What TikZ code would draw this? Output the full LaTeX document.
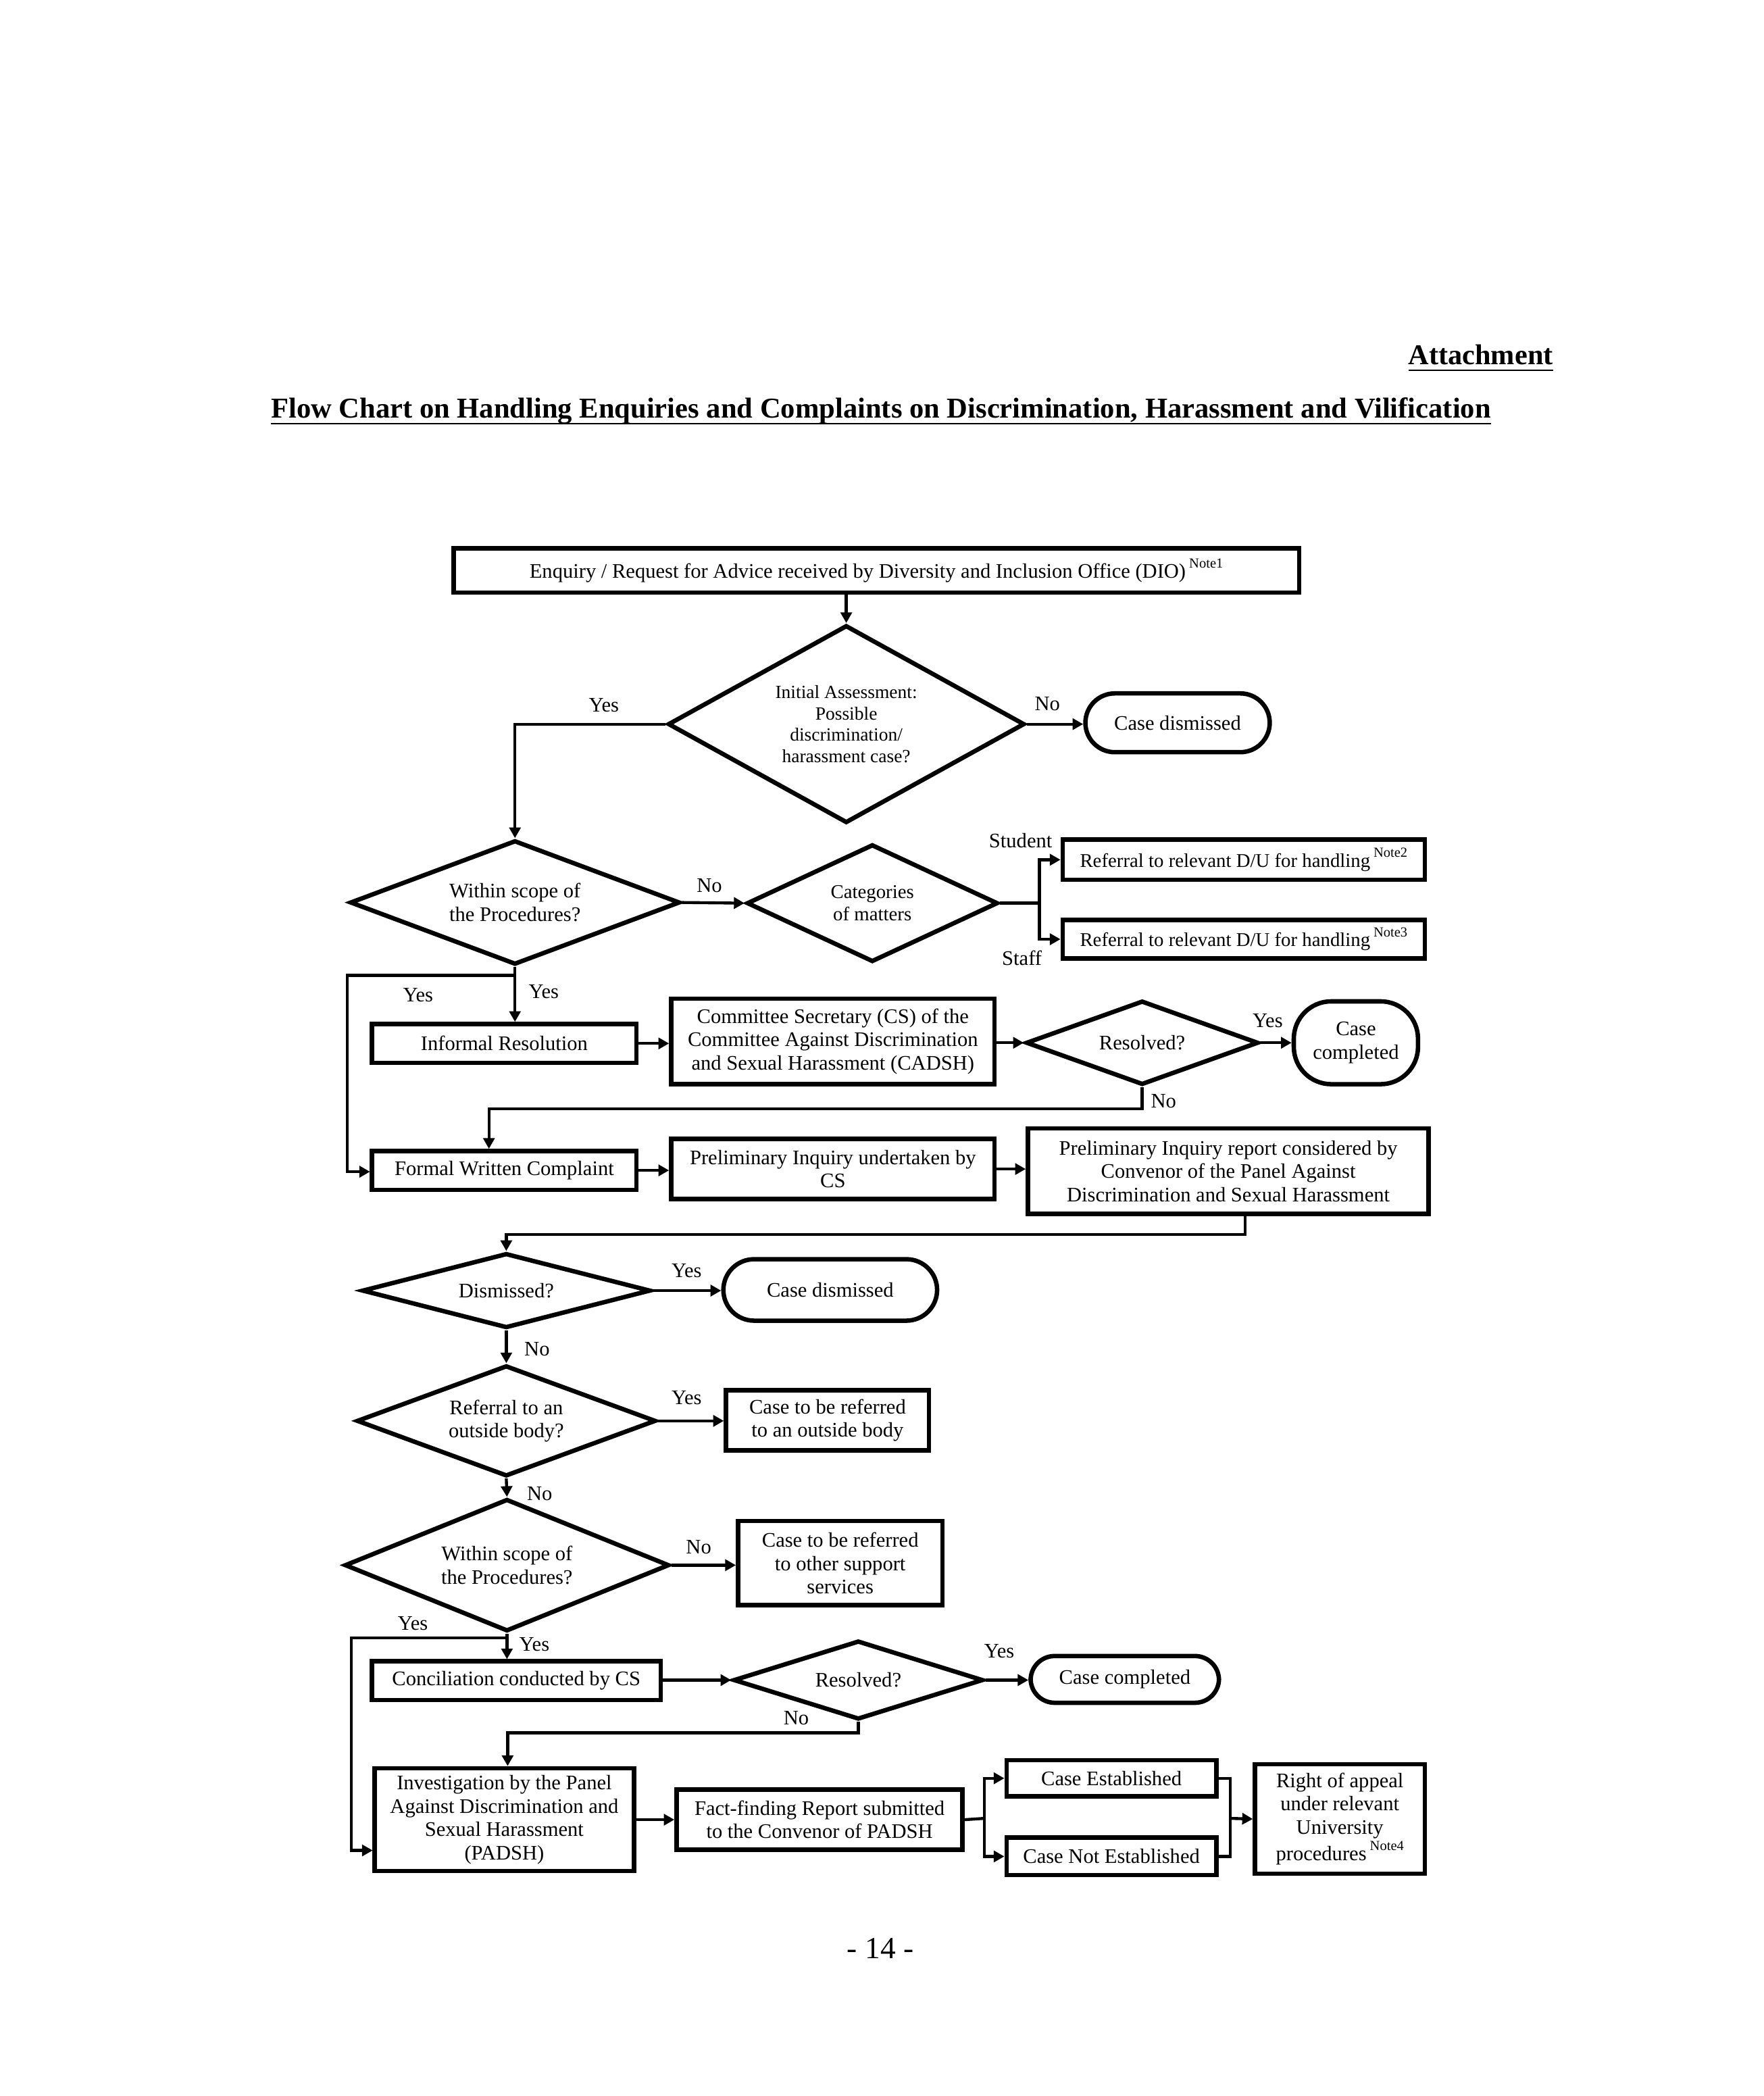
\documentclass[tikz,border=0pt]{standalone}
\usepackage{fontspec}
\setmainfont{Liberation Serif}
\usetikzlibrary{arrows.meta,shapes.geometric}
\def\U{0.015909cm}
\newlength\ulw
\newcommand\myul[1]{\settowidth\ulw{#1}\rlap{\rule[-2.2pt]{\ulw}{0.6pt}}#1}
\newcommand\fs{\fontsize{7}{7.9}\selectfont}
\newcommand\fsd{\fontsize{6.3}{7.2}\selectfont}
\newcommand\fsc{\fontsize{6.6}{7.6}\selectfont}
\newcommand\nt[1]{\,\raisebox{0.5em}{\fontsize{4.7}{5}\selectfont #1}}
\tikzset{
  base/.style={font=\fs, align=center, inner sep=0pt},
  wh/.style 2 args={minimum width=(#1-3)*\U, minimum height=(#2-3)*\U},
  dwh/.style 2 args={minimum width=(#1-2)*\U, minimum height=(#2-2)*\U},
  box/.style={base, draw, line width=1.5pt, rectangle},
  term/.style={box, rounded corners=#1*\U},
  dia/.style={base, draw, line width=1.5pt, diamond, shape aspect=2},
  arr/.style={line width=1pt, -{Triangle[length=3.6pt,width=3.8pt]}},
  ln/.style={line width=1pt},
  lbl/.style={font=\fs, inner sep=0pt},
}
\begin{document}
\begin{tikzpicture}[x=\U, y=-\U]
\useasboundingbox (0,0) rectangle (1320,1568.83);
\fill[white] (0,0) rectangle (1320,1568.83);

% headings
\node[inner sep=0pt, anchor=base east, font=\fontsize{9.7}{11}\selectfont\bfseries] (att) at (1163,273)
  {\myul{Attachment}};
\node[inner sep=0pt, anchor=base, font=\fontsize{9.75}{11}\selectfont\bfseries] (title) at (659.5,313)
  {\myul{Flow Chart on Handling Enquiries and Complaints on Discrimination, Harassment and Vilification}};
\node[inner sep=0pt, anchor=base, font=\fontsize{10.4}{12}\selectfont] (page) at (659,1466) {- 14 -};

% nodes
\node[box, wh={636}{36}] (enq) at (656,427) {Enquiry / Request for Advice received by Diversity and Inclusion Office (DIO)\nt{Note1}};
\node[dia, dwh={269}{150}, font=\fsd] (init) at (633.5,542) {Initial Assessment:\\Possible\\discrimination/\\harassment case?};
\node[term=22, wh={141}{47}] (dis1) at (881.5,541) {Case dismissed};
\node[dia, dwh={249}{95}] (scope1) at (385.5,675.5) {Within scope of\\the Procedures?};
\node[dia, dwh={190}{90}, font=\fsc] (cat) at (653,676) {Categories\\of matters};
\node[box, wh={274}{33}, font=\fsc] (note2) at (931,643.5) {Referral to relevant D/U for handling\nt{Note2}};
\node[box, wh={274}{32}, font=\fsc] (note3) at (931,703) {Referral to relevant D/U for handling\nt{Note3}};
\node[box, wh={201}{32}] (ir) at (377.5,781) {Informal Resolution};
\node[box, wh={245}{67}] (cs) at (623.5,779.5) {Committee Secretary (CS) of the\\Committee Against Discrimination\\and Sexual Harassment (CADSH)};
\node[dia, dwh={176}{65}] (res1) at (855,780.5) {Resolved?};
\node[term=28, wh={96}{65}] (comp1) at (1015,780.5) {Case\\completed};
\node[box, wh={201}{32}] (fwc) at (377.5,876) {Formal Written Complaint};
\node[box, wh={245}{48}] (pi) at (623.5,875) {Preliminary Inquiry undertaken by\\CS};
\node[box, wh={303}{67}] (pr) at (919.5,876.5) {Preliminary Inquiry report considered by\\Convenor of the Panel Against\\Discrimination and Sexual Harassment};
\node[dia, dwh={218}{58}] (dism) at (379,966) {Dismissed?};
\node[term=23, wh={163}{49}] (dis2) at (621.5,965.5) {Case dismissed};
\node[dia, dwh={226}{85}] (refout) at (379,1063.5) {Referral to an\\outside body?};
\node[box, wh={155}{48}] (outb) at (619.5,1063) {Case to be referred\\to an outside body};
\node[dia, dwh={245}{101}] (scope2) at (379.5,1171.5) {Within scope of\\the Procedures?};
\node[box, wh={156}{66}] (supp) at (629,1170) {Case to be referred\\to other support\\services};
\node[box, wh={219}{32}] (con) at (386.5,1258) {Conciliation conducted by CS};
\node[dia, dwh={189}{61}] (res2) at (642.5,1257.5) {Resolved?};
\node[term=18, wh={144}{38}] (comp2) at (842,1257) {Case completed};
\node[box, wh={197}{80}] (inv) at (377.5,1362) {Investigation by the Panel\\Against Discrimination and\\Sexual Harassment\\(PADSH)};
\node[box, wh={217}{48}] (ff) at (613.5,1362) {Fact-finding Report submitted\\to the Convenor of PADSH};
\node[box, wh={160}{30}] (ce) at (832,1331) {Case Established};
\node[box, wh={160}{31}] (cne) at (832,1389.5) {Case Not Established};
\node[box, wh={130}{85}] (ra) at (1003,1361.5) {Right of appeal\\under relevant\\University\\procedures\nt{Note4}};

% junction coordinates
\coordinate (j1) at (778,676);
\coordinate (y1) at (385.5,730);
\coordinate (l1) at (260,730);
\coordinate (fin) at (277,877);
\coordinate (n1r) at (855,830);
\coordinate (n1l) at (366,830);
\coordinate (prb) at (932,910);
\coordinate (prr) at (932,924);
\coordinate (prl) at (379,924);
\coordinate (y2) at (379.5,1226);
\coordinate (l2) at (263,1226);
\coordinate (invin) at (279,1385);
\coordinate (n2r) at (642.5,1297);
\coordinate (n2l) at (380,1297);
\coordinate (j2) at (737,1361);
\coordinate (j3) at (921,1361);

% connectors
\draw[arr] (enq.south -| init.north) -- (init.north);
\draw[arr] (init.east) -- (init.east -| dis1.west);
\draw[arr] (init.west) -| (scope1.north);
\draw[arr] (scope1.east) -- (cat.west);
\draw[ln] (cat.east) -- (j1);
\draw[arr] (j1) |- (note2.west);
\draw[arr] (j1) |- (note3.west);
\draw[arr] (scope1.south) -- (scope1.south |- ir.north);
\draw[arr] (y1) -- (l1) |- (fin);
\draw[arr] (ir.east) -- (ir.east -| cs.west);
\draw[arr] (cs.east |- res1.west) -- (res1.west);
\draw[arr] (res1.east) -- (comp1.west);
\draw[arr] (res1.south) -- (n1r) -- (n1l) -- (n1l |- fwc.north);
\draw[arr] (fwc.east) -- (fwc.east -| pi.west);
\draw[arr] (pi.east) -- (pi.east -| pr.west);
\draw[arr] (prb) -- (prr) -- (prl) -- (dism.north);
\draw[arr] (dism.east) -- (dism.east -| dis2.west);
\draw[arr] (dism.south) -- (refout.north);
\draw[arr] (refout.east) -- (refout.east -| outb.west);
\draw[arr] (refout.south) -- (scope2.north);
\draw[arr] (scope2.east) -- (scope2.east -| supp.west);
\draw[arr] (scope2.south) -- (scope2.south |- con.north);
\draw[arr] (y2) -- (l2) |- (invin);
\draw[arr] (con.east |- res2.west) -- (res2.west);
\draw[arr] (res2.east) -- (res2.east -| comp2.west);
\draw[arr] (res2.south) -- (n2r) -- (n2l) -- (n2l |- inv.north);
\draw[arr] (inv.east |- ff.west) -- (ff.west);
\draw[ln] (ff.east) -- (j2);
\draw[arr] (j2) |- (ce.west);
\draw[arr] (j2) |- (cne.west);
\draw[ln] (ce.east) -| (j3) |- (cne.east);
\draw[arr] (j3) -- (ra.west);

% labels
\node[lbl] (la1) at (452,528) {Yes};
\node[lbl] (la2) at (784,527) {No};
\node[lbl] (la3) at (531,663) {No};
\node[lbl] (la4) at (764,629) {Student};
\node[lbl] (la5) at (765,717) {Staff};
\node[lbl] (la6) at (313,745) {Yes};
\node[lbl] (la7) at (407,742) {Yes};
\node[lbl] (la8) at (949,764) {Yes};
\node[lbl] (la9) at (871,824) {No};
\node[lbl] (la10) at (514,951) {Yes};
\node[lbl] (la11) at (402,1010) {No};
\node[lbl] (la12) at (514,1046) {Yes};
\node[lbl] (la13) at (404,1118) {No};
\node[lbl] (la14) at (523,1158) {No};
\node[lbl] (la15) at (309,1215) {Yes};
\node[lbl] (la16) at (400,1231) {Yes};
\node[lbl] (la17) at (748,1236) {Yes};
\node[lbl] (la18) at (596,1286) {No};
\end{tikzpicture}
\end{document}
